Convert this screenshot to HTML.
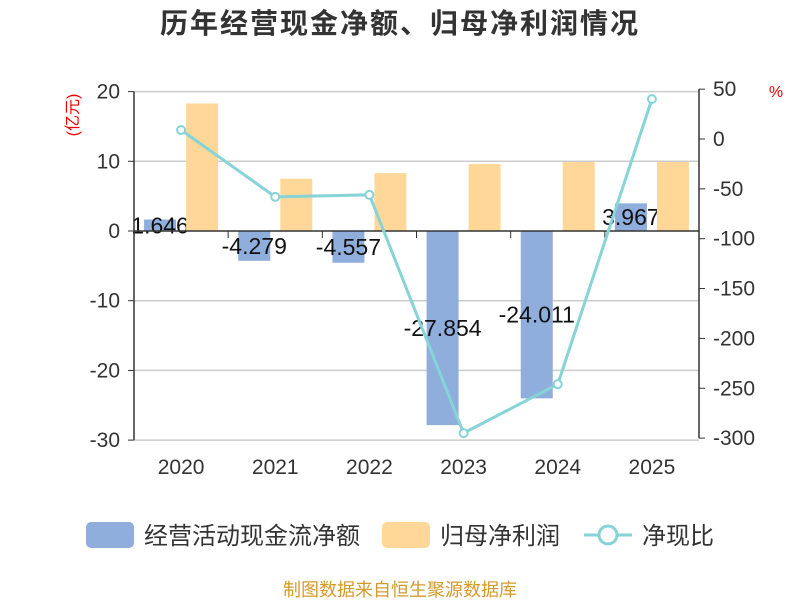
<!DOCTYPE html>
<html><head><meta charset="utf-8"><style>
body{margin:0;background:#fff;font-family:"Liberation Sans","Noto Sans CJK SC",sans-serif}
</style></head><body>
<svg id="c" width="800" height="600" xmlns="http://www.w3.org/2000/svg" font-family="Liberation Sans, Noto Sans CJK SC, sans-serif">
<text x="400" y="33" text-anchor="middle" font-size="28" letter-spacing="2" font-weight="bold" fill="#333">历年经营现金净额、归母净利润情况</text>
<text x="78" y="115" font-size="16" fill="#e00" transform="rotate(-90 78 115)" text-anchor="middle">(亿元)</text>
<text x="776" y="97" font-size="16" fill="#e00" text-anchor="middle">%</text>
<g id="grid"></g><g id="bars"></g><g id="axes"></g><g id="line"></g>
<g>
<rect x="86" y="522" width="48" height="26" rx="5" fill="#8faedc"/>
<text x="144" y="544" font-size="24" fill="#333">经营活动现金流净额</text>
<rect x="382" y="522" width="48" height="26" rx="5" fill="#ffd899"/>
<text x="440" y="544" font-size="24" fill="#333">归母净利润</text>
<line x1="584" y1="535" x2="632" y2="535" stroke="#86d4d8" stroke-width="3"/>
<circle cx="608" cy="535" r="9" fill="#fff" stroke="#86d4d8" stroke-width="3"/>
<text x="642" y="544" font-size="24" fill="#333">净现比</text>
</g>
<text x="400" y="596" text-anchor="middle" font-size="18" fill="#d49a2a">制图数据来自恒生聚源数据库</text>
</svg>
<script>
const categories=["2020","2021","2022","2023","2024","2025"];
const cashFlow=[1.646,-4.279,-4.557,-27.854,-24.011,3.967];
const netProfit=[18.3,7.5,8.3,9.6,9.9,9.9];
const ratio=[9,-58,-56,-295,-246,40];
const leftTicks=[20,10,0,-10,-20,-30];
const rightTicks=[50,0,-50,-100,-150,-200,-250,-300];
const NS="http://www.w3.org/2000/svg";
const x0=134,x1=699,bw=(x1-x0)/categories.length;
const yL=v=>231-v*6.97;
const yR=v=>139-v*0.997;
const xC=i=>x0+bw*(i+0.5);
function mk(t,a,p){const e=document.createElementNS(NS,t);for(const k in a)e.setAttribute(k,a[k]);p.appendChild(e);return e;}
const grid=document.getElementById('grid'),bars=document.getElementById('bars'),axes=document.getElementById('axes'),line=document.getElementById('line');
leftTicks.forEach(v=>{
 if(v!==0){const l=mk('line',{x1:x0,x2:x1,y1:yL(v),y2:yL(v),stroke:'#ccc','stroke-width':1.5},grid);
 
 }
 const t=mk('text',{x:x0-14,y:yL(v)+7,'text-anchor':'end','font-size':21,fill:'#333'},axes);t.textContent=v;
 
 
 mk('line',{x1:x0-6,x2:x0,y1:yL(v),y2:yL(v),stroke:'#333'},axes);
});
rightTicks.forEach(v=>{
 const t=mk('text',{x:x1+14,y:yR(v)+7,'font-size':21,fill:'#333'},axes);t.textContent=v;
 
 
 mk('line',{x1:x1,x2:x1+6,y1:yR(v),y2:yR(v),stroke:'#333'},axes);
});
const la=mk('line',{x1:x0,x2:x0,y1:yL(20),y2:yL(-30),stroke:'#333','stroke-width':1.5},axes);


const ra=mk('line',{x1:x1,x2:x1,y1:yR(50),y2:yR(-300),stroke:'#333','stroke-width':1.5},axes);


const xa=mk('line',{x1:x0,x2:x1,y1:yL(0),y2:yL(0),stroke:'#333','stroke-width':1.5},axes);


categories.forEach((c,i)=>{
 mk('line',{x1:x0+bw*i,x2:x0+bw*i,y1:yL(0),y2:yL(0)+7,stroke:'#333'},axes);
 const t=mk('text',{x:xC(i),y:474,'text-anchor':'middle','font-size':21,fill:'#333'},axes);t.textContent=c;
 
 
});
categories.forEach((c,i)=>{
 const v=cashFlow[i],y=Math.min(yL(v),yL(0)),h=Math.abs(yL(v)-yL(0));
 const r=mk('rect',{x:xC(i)-21-16,y:y,width:32,height:h,fill:'#8faedc'},bars);
 
 
 const t=mk('text',{x:xC(i)-21,y:y+h/2+8,'text-anchor':'middle','font-size':23,fill:'#111'},bars);t.textContent=v;
 
 
});
categories.forEach((c,i)=>{
 const v=netProfit[i],y=Math.min(yL(v),yL(0)),h=Math.abs(yL(v)-yL(0));
 const r=mk('rect',{x:xC(i)+21-16,y:y,width:32,height:h,fill:'#ffd899'},bars);
 
 
});
const pl=mk('polyline',{points:ratio.map((v,i)=>xC(i)+','+yR(v)).join(' '),fill:'none',stroke:'#86d4d8','stroke-width':3},line);


ratio.forEach((v,i)=>{
 const p=mk('circle',{cx:xC(i),cy:yR(v),r:4,fill:'#fff',stroke:'#86d4d8','stroke-width':2},line);
 
 
});
</script>
</body></html>
